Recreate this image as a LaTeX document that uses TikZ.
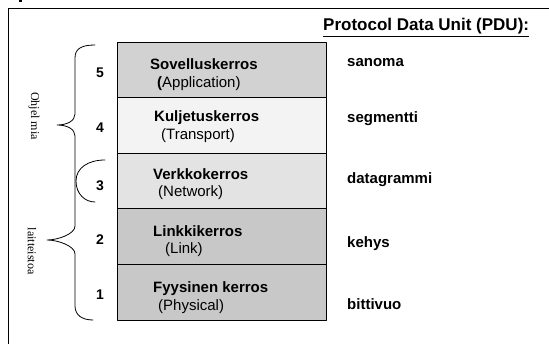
\documentclass[tikz,border=0pt]{standalone}
\usepackage{fontspec}
\setmainfont{Liberation Sans}
\newfontfamily\timesfont{Liberation Serif}
\definecolor{sovgray}{HTML}{D2D2D2}
\definecolor{kulgray}{HTML}{F3F3F3}
\definecolor{vergray}{HTML}{E3E3E3}
\definecolor{lingray}{HTML}{C8C8C8}
\begin{document}
\begin{tikzpicture}[x=1pt,y=-1pt,line join=round,line cap=round,
	kerros/.style={draw,line width=0.8pt,minimum width=209pt,minimum height=55.6pt,inner sep=0pt},
	nimi/.style={anchor=base west,inner sep=0pt,font=\fontsize{15}{18}\selectfont\bfseries},
	engl/.style={anchor=base west,inner sep=0pt,font=\fontsize{15}{18}\selectfont},
	nro/.style={anchor=base,inner sep=0pt,font=\fontsize{14}{17}\selectfont\bfseries},
	pdu/.style={anchor=base west,inner sep=0pt,font=\fontsize{15}{18}\selectfont\bfseries},
	ryhma/.style={rotate=-90,inner sep=0pt,font=\timesfont\fontsize{12}{14}\selectfont}]
	\useasboundingbox (0,0) rectangle (549,344);
	% kehys
	\draw[line width=0.8pt] (8,344)--(8,8)--(549,8);
	\fill (19,0) rectangle (22,2);
	% kerrokset
	\node[kerros,fill=sovgray] (L5) at (221.5,69.8) {};
	\node[kerros,fill=kulgray] (L4) at (221.5,125.4) {};
	\node[kerros,fill=vergray] (L3) at (221.5,181) {};
	\node[kerros,fill=lingray] (L2) at (221.5,236.6) {};
	\node[kerros,fill=lingray] (L1) at (221.5,292.2) {};
	\node[nimi] (t5) at (150,70) {Sovelluskerros};
	\node[engl] (e5) at (157,88) {\textbf{(}Application)};
	\node[nimi] (t4) at (154,122) {Kuljetuskerros};
	\node[engl] (e4) at (161,140) {(Transport)};
	\node[nimi] (t3) at (153,180) {Verkkokerros};
	\node[engl] (e3) at (158,197) {(Network)};
	\node[nimi] (t2) at (153,237) {Linkkikerros};
	\node[engl] (e2) at (165,254) {(Link)};
	\node[nimi] (t1) at (153,293) {Fyysinen kerros};
	\node[engl] (e1) at (158,311) {(Physical)};
	% numerot
	\node[nro] (n5) at (100,78) {5};
	\node[nro] (n4) at (100,133) {4};
	\node[nro] (n3) at (100,191) {3};
	\node[nro] (n2) at (100,245) {2};
	\node[nro] (n1) at (100,300) {1};
	% PDU
	\node[pdu,font=\fontsize{17}{20}\selectfont\bfseries] (otsikko) at (323,31) {\underline{Protocol Data Unit (PDU):}};
	\node[pdu] (p5) at (347,67) {sanoma};
	\node[pdu] (p4) at (347,123) {segmentti};
	\node[pdu] (p3) at (347,184) {datagrammi};
	\node[pdu] (p2) at (347,248) {kehys};
	\node[pdu] (p1) at (347,310) {bittivuo};
	% aaltosulkeet
	\draw[line width=0.8pt] (95,45) .. controls (81,45) and (75,49) .. (75,58) -- (75,114)
		.. controls (75,121) and (67,125) .. (57,125) .. controls (67,125) and (75,129) .. (75,136)
		-- (75,226) .. controls (75,234) and (58,240) .. (47,240) .. controls (58,240) and (75,246) .. (75,254)
		-- (75,306) .. controls (75,315) and (82,320) .. (93,320);
	\draw[line width=0.8pt] (105,160) .. controls (88,160) and (76,168) .. (76,181) .. controls (76,194) and (85,202) .. (95,202);
	\node[ryhma] (ohj) at (34,116) {Ohjel mia};
	\node[ryhma] (lait) at (32,251) {laitteistoa};
\end{tikzpicture}
\end{document}
